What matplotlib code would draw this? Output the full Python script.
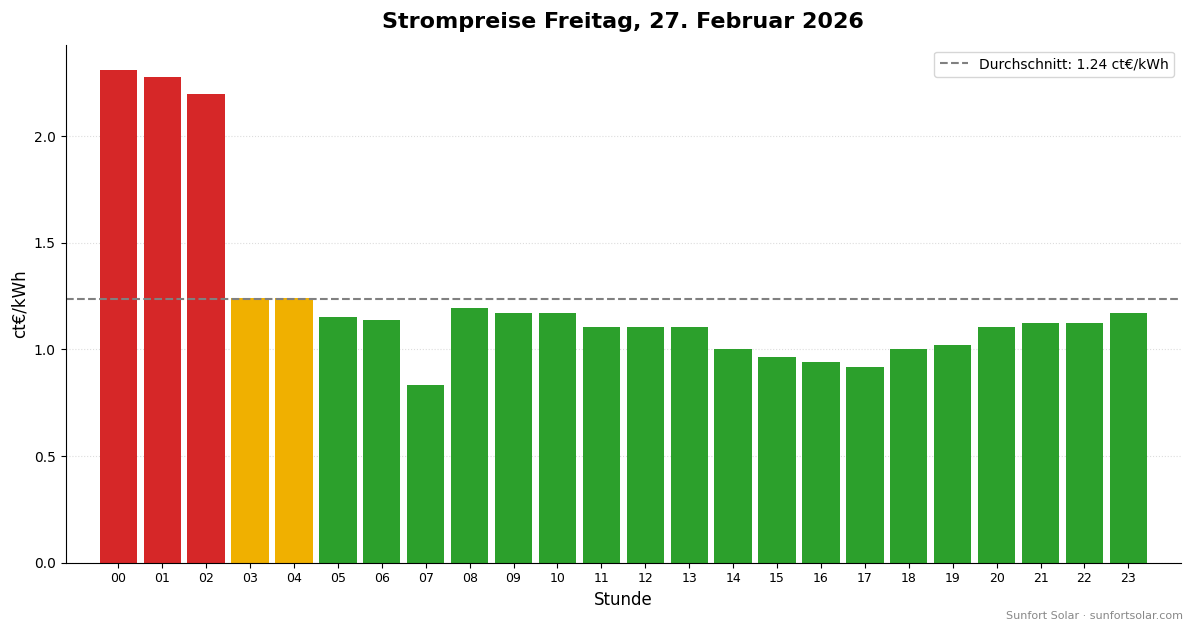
import matplotlib
matplotlib.use("Agg")
import matplotlib.pyplot as plt

hours = [f"{h:02d}" for h in range(24)]
prices = [2.31, 2.28, 2.20, 1.24, 1.24, 1.15, 1.14, 0.835, 1.195, 1.17, 1.17, 1.105,
          1.105, 1.105, 1.0, 0.965, 0.94, 0.92, 1.0, 1.02, 1.105, 1.125, 1.125, 1.17]
colors = ["#d62728"] * 3 + ["#f0b000"] * 2 + ["#2ca02c"] * 19
average = 1.237

fig = plt.figure(figsize=(11.93, 6.28), dpi=100)
ax = fig.add_axes([0.055, 0.104, 0.935, 0.825])
ax.bar(range(len(hours)), prices, color=colors, width=0.85)
ax.axhline(average, color="#808080", ls="--", lw=1.5,
           label=f"Durchschnitt: {average:.2f} ct€/kWh")
ax.set_xticks(range(len(hours)))
ax.set_xticklabels(hours, fontsize=9)
ax.set_xlim(-1.2, 24.2)
ax.set_ylim(0, 2.43)
ax.set_yticks([0, 0.5, 1.0, 1.5, 2.0])
ax.set_xlabel("Stunde", fontsize=12)
ax.set_ylabel("ct€/kWh", fontsize=12)
ax.set_title("Strompreise Freitag, 27. Februar 2026", fontsize=16, fontweight="bold", pad=12)
ax.grid(axis="y", ls=":", color="#dddddd")
ax.set_axisbelow(True)
ax.spines["top"].set_visible(False)
ax.spines["right"].set_visible(False)
ax.legend(loc="upper right", fontsize=10)
fig.text(0.992, 0.015, "Sunfort Solar · sunfortsolar.com", fontsize=8, color="#888888", ha="right")

fig.savefig("out.png", dpi=100)
